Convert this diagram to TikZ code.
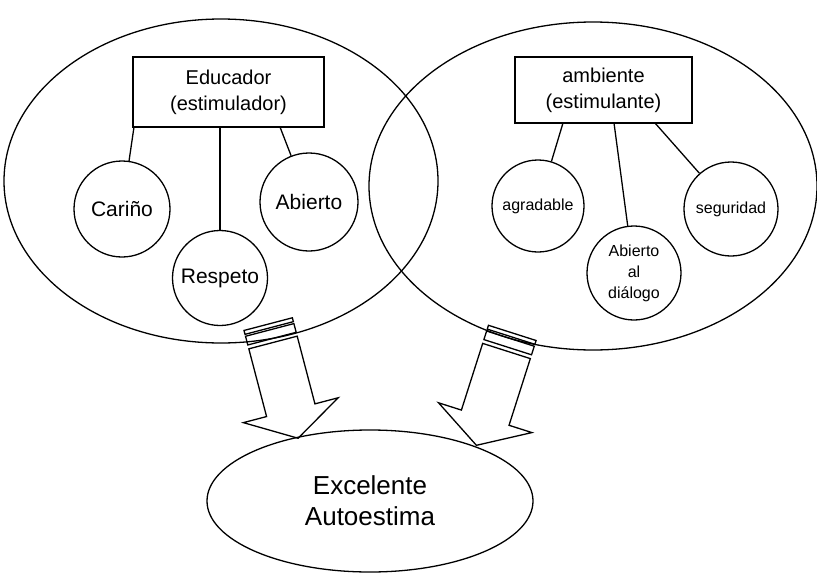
\documentclass[tikz,border=0pt]{standalone}
\usepackage{fontspec}
\setmainfont{Liberation Sans}
\usetikzlibrary{shapes.geometric}
\begin{document}
\begin{tikzpicture}[x=1pt,y=-1pt,
  lw/.style={line width=1.3pt},
  bigell/.style={ellipse, draw, lw, inner sep=0pt},
  boxst/.style={rectangle, draw, lw, align=center, inner sep=0pt, font=\fontsize{20}{26}\selectfont},
  circ/.style={circle, draw, lw, inner sep=0pt, align=center},
  bigtext/.style={font=\fontsize{21}{25}\selectfont},
  smalltext/.style={font=\fontsize{16}{21}\selectfont},
  conn/.style={lw},
  arrowshape/.style={draw, lw, line join=miter}]
\useasboundingbox (0,0) rectangle (817,573);
% big ellipses
\node[bigell, minimum width=434pt, minimum height=324pt] (L) at (221,181) {};
\node[bigell, minimum width=448pt, minimum height=328pt] (R) at (593,186) {};
\node[bigell, minimum width=326pt, minimum height=142pt, align=center,
      font=\fontsize{26}{31}\selectfont] (E) at (370,501) {Excelente\\Autoestima};
% boxes
\node[boxst, minimum width=191pt, minimum height=70pt] (lb) at (228.5,92) {Educador\\(estimulador)};
\node[boxst, minimum width=177pt, minimum height=66pt] (rb) at (603.5,90) {ambiente\\(estimulante)};
% left circles
\node[circ, bigtext, minimum size=96pt] (car) at (122,209) {Cariño};
\node[circ, bigtext, minimum size=95pt] (res) at (220,278) {Respeto};
\node[circ, bigtext, minimum size=98pt] (abi) at (309,202) {Abierto};
% right circles
\node[circ, smalltext, minimum size=92pt] (agr) at (538,206) {agradable};
\node[circ, smalltext, minimum size=94pt] (dia) at (634,273) {Abierto\\al\\diálogo};
\node[circ, smalltext, minimum size=94pt] (seg) at (731,209) {seguridad};
% connectors
\coordinate (l1) at (134,127);
\coordinate (l3) at (280,127);
\coordinate (r1) at (563,123);
\coordinate (r2) at (614,123);
\coordinate (r3) at (655,123);
\draw[conn] (l1) -- (car);
\draw[conn] (lb.south -| res.north) -- (res.north);
\draw[conn] (l3) -- (abi);
\draw[conn] (r1) -- (agr);
\draw[conn] (r2) -- (dia);
\draw[conn] (r3) -- (seg);
% left block arrow
\begin{scope}[shift={(273,342.5)}, rotate=14.7]
  \draw[arrowshape] (-25,0) -- (25,0) -- (25,70) -- (49,70) -- (0,99) -- (-49,70) -- (-25,70) -- cycle;
  \draw[arrowshape] (-25,-19) -- (25,-19) -- (25,-15) -- (-25,-15) -- cycle;
  \draw[arrowshape] (-25,-13) -- (25,-13) -- (25,-4) -- (-25,-4) -- cycle;
\end{scope}
% right block arrow
\begin{scope}[shift={(506.5,351)}, rotate=-17.7]
  \draw[arrowshape] (-25,0) -- (25,0) -- (25,70) -- (49,70) -- (0,99) -- (-49,70) -- (-25,70) -- cycle;
  \draw[arrowshape] (-25,-19) -- (25,-19) -- (25,-15) -- (-25,-15) -- cycle;
  \draw[arrowshape] (-25,-13) -- (25,-13) -- (25,-4) -- (-25,-4) -- cycle;
\end{scope}
\end{tikzpicture}
\end{document}
